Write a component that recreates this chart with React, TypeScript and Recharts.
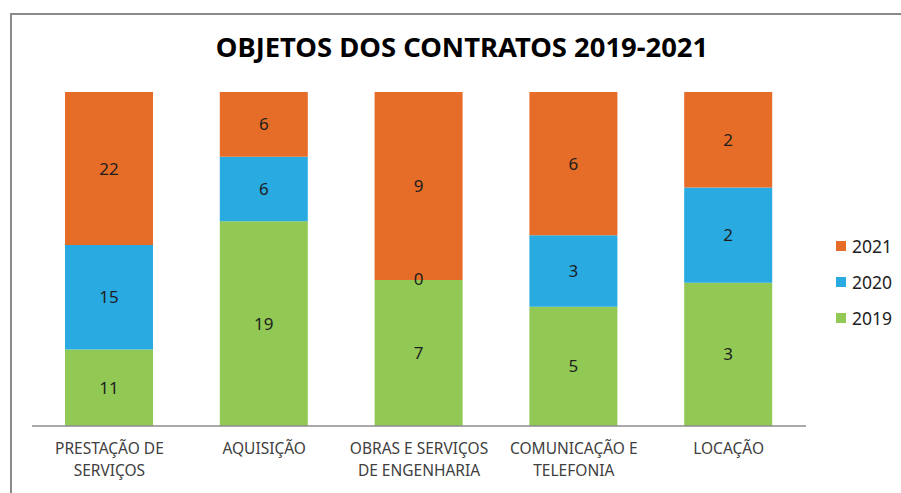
import React from "react";
import { BarChart, Bar, XAxis, YAxis, Legend, LabelList } from "recharts";

const categories = [
  "PRESTAÇÃO DE|SERVIÇOS",
  "AQUISIÇÃO",
  "OBRAS E SERVIÇOS|DE ENGENHARIA",
  "COMUNICAÇÃO E|TELEFONIA",
  "LOCAÇÃO",
];
const values2019 = [11, 19, 7, 5, 3];
const values2020 = [15, 6, 0, 3, 2];
const values2021 = [22, 6, 9, 6, 2];

const data = categories.map((c, i) => ({
  name: c,
  y2019: values2019[i],
  y2020: values2020[i],
  y2021: values2021[i],
}));

const FONT = "'Noto Sans', sans-serif";
const TXT = "#404040";
const DARK = "#1e1e1e";

const Tick = (props: any) => {
  const { x, y, payload } = props;
  const lines = String(payload.value).split("|");
  return (
    <g>
      {lines.map((l, i) => (
        <text
          key={i}
          x={x}
          y={y + 20 + i * 22}
          textAnchor="middle"
          fontFamily={FONT}
          fontSize={15.5}
          fill={TXT}
        >
          {l}
        </text>
      ))}
    </g>
  );
};

const LegendContent = (props: any) => {
  const items = [...(props.payload || [])].reverse();
  return (
    <div style={{ fontFamily: FONT, fontSize: 17.5, color: DARK }}>
      {items.map((it: any) => (
        <div
          key={it.value}
          style={{ display: "flex", alignItems: "center", height: 36 }}
        >
          <span
            style={{
              display: "inline-block",
              width: 10,
              height: 10,
              background: it.color,
              marginRight: 6,
            }}
          />
          {it.value}
        </div>
      ))}
    </div>
  );
};

// label for zero-height 2020 segments, drawn at the top edge of the 2019 segment
const ZeroLabel = (props: any) => {
  const { x, y, width, value } = props;
  if (value !== 0) return null;
  return (
    <text
      x={x + width / 2}
      y={y}
      dy={5}
      textAnchor="middle"
      fontFamily={FONT}
      fontSize={17}
      fill={DARK}
    >
      {value}
    </text>
  );
};

export default function App() {
  return (
    <div
      style={{
        position: "absolute",
        left: 0,
        top: 0,
        width: 901,
        height: 493,
        overflow: "hidden",
        background: "#fff",
      }}
    >
      <div
        style={{
          position: "absolute",
          left: 10,
          top: 13,
          width: 900,
          height: 500,
          borderTop: "2px solid #8a8a8a",
          borderLeft: "2px solid #8a8a8a",
        }}
      />
      <div
        style={{
          position: "absolute",
          left: 0,
          top: 28,
          width: 924,
          textAlign: "center",
          fontFamily: FONT,
          fontWeight: 700,
          fontSize: 27.4,
          color: "#000",
        }}
      >
        OBJETOS DOS CONTRATOS 2019-2021
      </div>
      <div style={{ position: "absolute", left: 0, top: 0 }}>
        <BarChart
          width={901}
          height={493}
          data={data}
          stackOffset="expand"
          margin={{ top: 92, right: 25, bottom: 0, left: 32 }}
        >
          <XAxis
            dataKey="name"
            tick={<Tick />}
            tickLine={false}
            axisLine={{ stroke: "#8c8c8c", strokeWidth: 1.5 }}
            interval={0}
            height={67}
          />
          <YAxis hide domain={[0, 1]} />
          <Legend
            layout="vertical"
            align="right"
            verticalAlign="top"
            wrapperStyle={{ left: 836, top: 228, width: 70 }}
            content={<LegendContent />}
          />
          <Bar
            dataKey="y2019"
            name="2019"
            stackId="a"
            fill="#92C954"
            barSize={88}
            isAnimationActive={false}
          >
            <LabelList
              dataKey="y2019"
              position="center"
              fill={DARK}
              fontFamily={FONT}
              fontSize={17}
            />
            <LabelList dataKey="y2020" content={<ZeroLabel />} />
          </Bar>
          <Bar
            dataKey="y2020"
            name="2020"
            stackId="a"
            fill="#29ABE2"
            barSize={88}
            isAnimationActive={false}
          >
            <LabelList
              dataKey="y2020"
              position="center"
              fill={DARK}
              fontFamily={FONT}
              fontSize={17}
            />
          </Bar>
          <Bar
            dataKey="y2021"
            name="2021"
            stackId="a"
            fill="#E56D27"
            barSize={88}
            isAnimationActive={false}
          >
            <LabelList
              dataKey="y2021"
              position="center"
              fill={DARK}
              fontFamily={FONT}
              fontSize={17}
            />
          </Bar>
        </BarChart>
      </div>
    </div>
  );
}
